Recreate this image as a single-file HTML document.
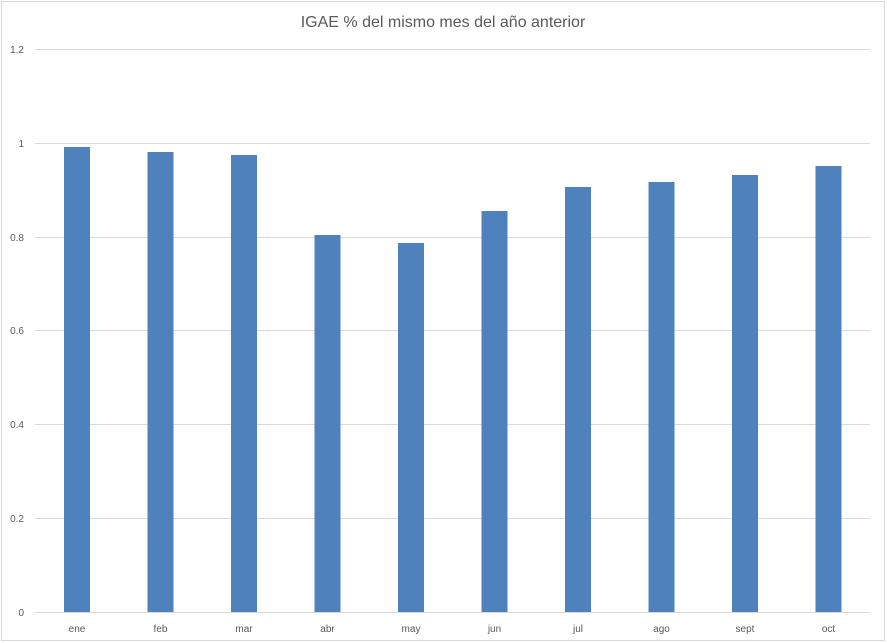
<!DOCTYPE html>
<html><head><meta charset="utf-8"><style>
html,body{margin:0;padding:0;background:#fff}
svg{display:block}
text{font-family:"Liberation Sans",sans-serif}
</style></head><body>
<svg width="887" height="643" viewBox="0 0 887 643" xmlns="http://www.w3.org/2000/svg">
<rect x="1.5" y="1.5" width="883" height="639" fill="#fff" stroke="#d9d9d9" stroke-width="1"/>
<text x="443" y="27" text-anchor="middle" font-size="16" fill="#595959">IGAE % del mismo mes del año anterior</text>
<g stroke="#d9d9d9" stroke-width="1">
<line x1="35" x2="870" y1="49.5" y2="49.5"/>
<line x1="35" x2="870" y1="143.5" y2="143.5"/>
<line x1="35" x2="870" y1="237.5" y2="237.5"/>
<line x1="35" x2="870" y1="330.5" y2="330.5"/>
<line x1="35" x2="870" y1="424.5" y2="424.5"/>
<line x1="35" x2="870" y1="518.5" y2="518.5"/>
<line x1="35" x2="870" y1="612.5" y2="612.5"/>
</g>
<g font-size="10" fill="#595959" text-anchor="end">
<text x="24" y="53">1.2</text>
<text x="24" y="147">1</text>
<text x="24" y="241">0.8</text>
<text x="24" y="334">0.6</text>
<text x="24" y="428">0.4</text>
<text x="24" y="522">0.2</text>
<text x="24" y="616">0</text>
</g>
<g fill="#4f81bd">
<rect x="64" y="147" width="26" height="465"/>
<rect x="147.5" y="152" width="26" height="460"/>
<rect x="231" y="155" width="26" height="457"/>
<rect x="314.5" y="235" width="26" height="377"/>
<rect x="398" y="243" width="26" height="369"/>
<rect x="481.5" y="211" width="26" height="401"/>
<rect x="565" y="187" width="26" height="425"/>
<rect x="648.5" y="182" width="26" height="430"/>
<rect x="732" y="175" width="26" height="437"/>
<rect x="815.5" y="166" width="26" height="446"/>
</g>
<g font-size="10" fill="#595959" text-anchor="middle">
<text x="77" y="632">ene</text>
<text x="160.5" y="632">feb</text>
<text x="244" y="632">mar</text>
<text x="327.5" y="632">abr</text>
<text x="411" y="632">may</text>
<text x="494.5" y="632">jun</text>
<text x="578" y="632">jul</text>
<text x="661.5" y="632">ago</text>
<text x="745" y="632">sept</text>
<text x="828.5" y="632">oct</text>
</g>
</svg>
</body></html>
